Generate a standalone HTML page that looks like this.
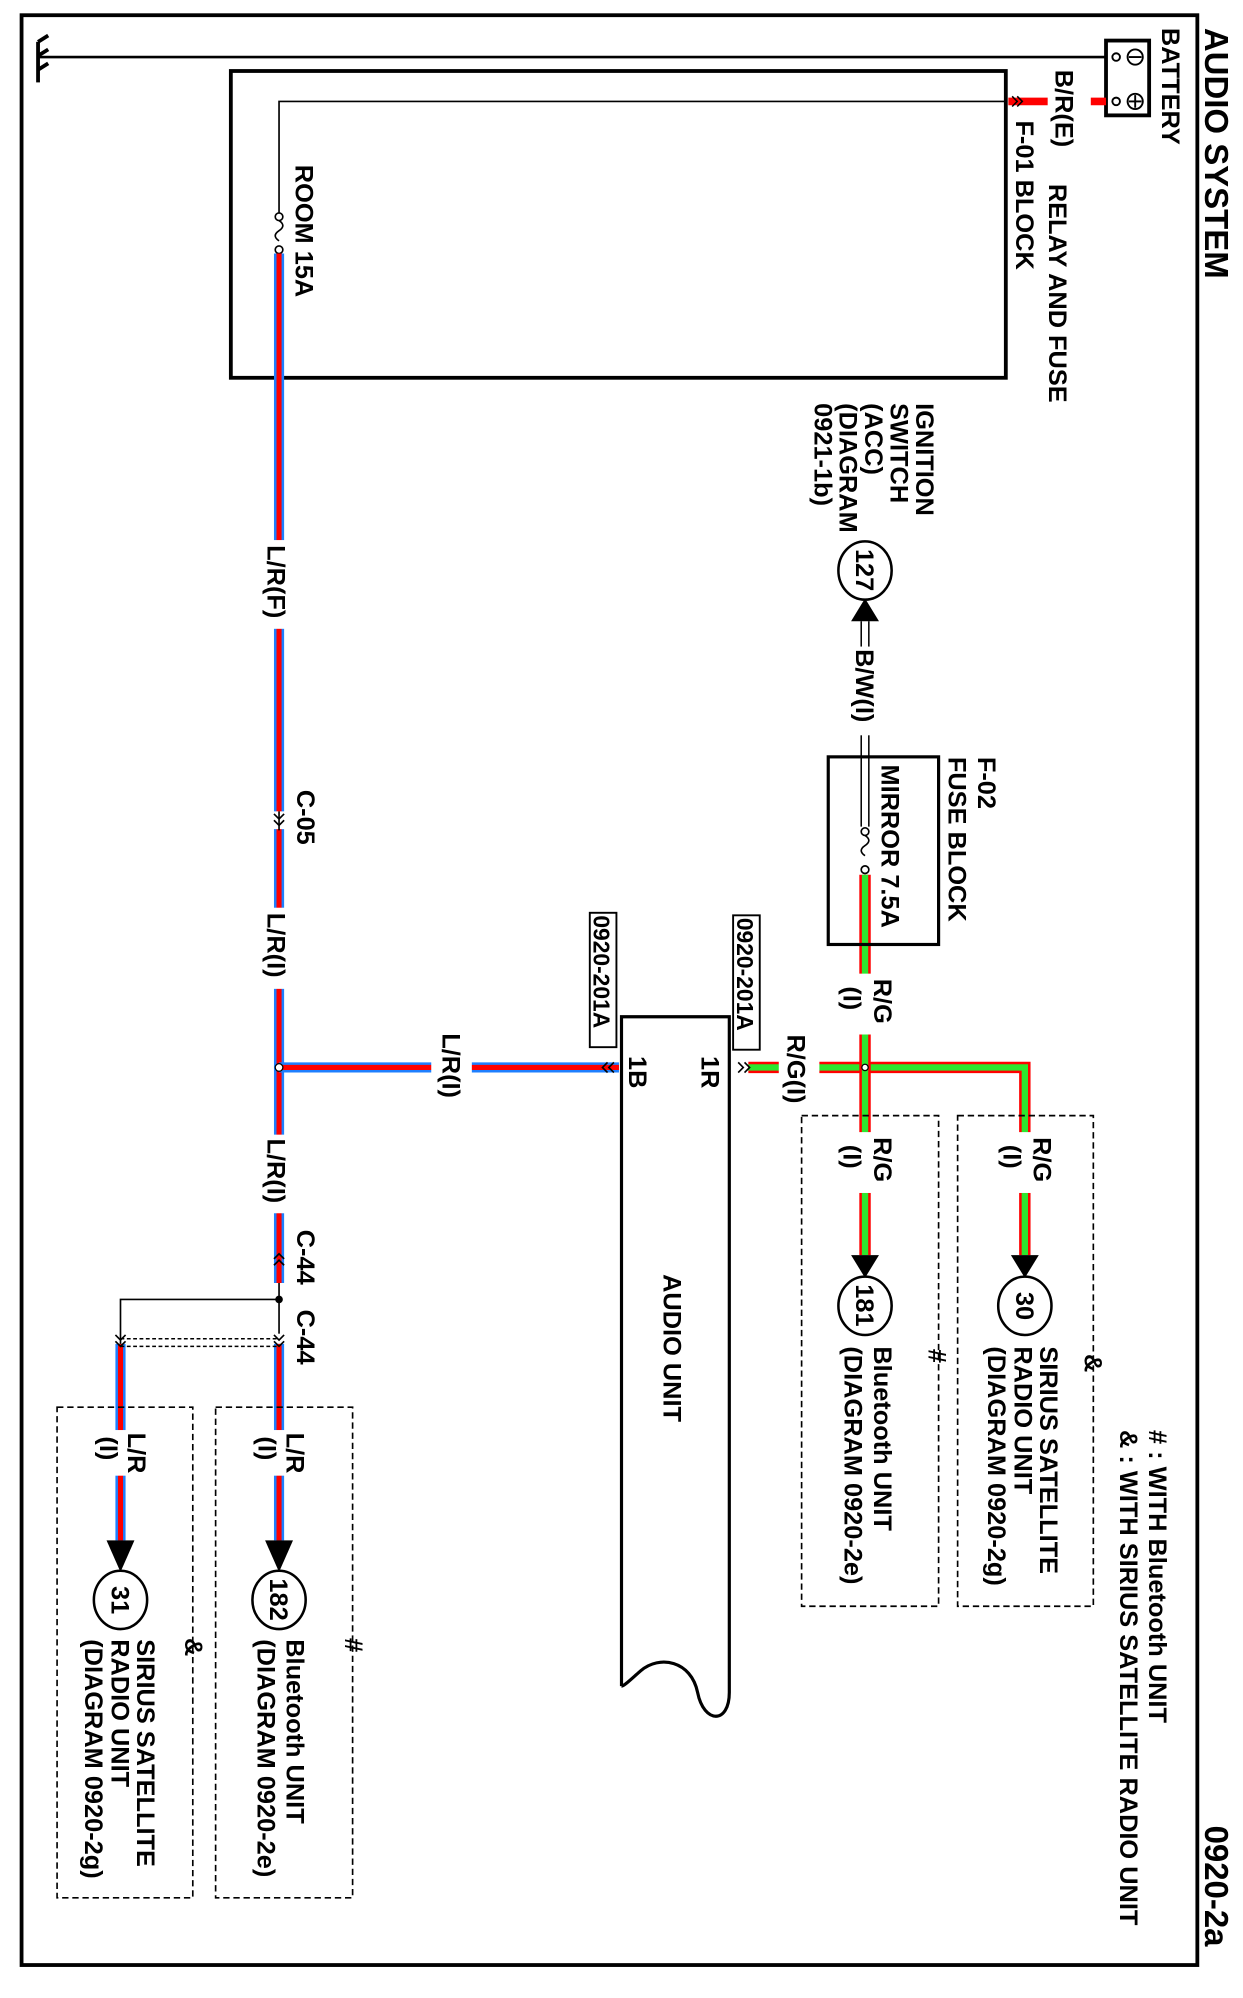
<!DOCTYPE html>
<html><head><meta charset="utf-8"><style>
html,body{margin:0;padding:0;background:#fff;}
svg{display:block;}
text{font-family:"Liberation Sans",sans-serif;font-weight:bold;fill:#000;}
</style></head><body>
<svg width="1243" height="1998" viewBox="0 0 980 1576" preserveAspectRatio="none" xmlns="http://www.w3.org/2000/svg">
<rect x="17" y="12" width="927" height="1538" fill="none" stroke="#000" stroke-width="3"/>
<!-- ground -->
<g stroke="#000" stroke-width="3"><line x1="30" y1="33" x2="30" y2="65"/><line x1="30" y1="33" x2="38" y2="28"/><line x1="30" y1="44" x2="38" y2="39"/><line x1="30" y1="55" x2="38" y2="50"/></g>
<line x1="30" y1="45" x2="872" y2="45" stroke="#000" stroke-width="2"/>
<!-- battery -->
<rect x="872" y="32" width="34" height="59" fill="#fff" stroke="#000" stroke-width="3"/>
<circle cx="880" cy="45" r="3" fill="#fff" stroke="#000" stroke-width="1.5"/>
<circle cx="880" cy="80" r="3" fill="#fff" stroke="#000" stroke-width="1.5"/>
<circle cx="895" cy="45" r="6" fill="#fff" stroke="#000" stroke-width="1.5"/><line x1="890" y1="45" x2="900" y2="45" stroke="#000" stroke-width="1.5"/>
<circle cx="895" cy="80" r="6" fill="#fff" stroke="#000" stroke-width="1.5"/><line x1="890" y1="80" x2="900" y2="80" stroke="#000" stroke-width="1.5"/><line x1="895" y1="75" x2="895" y2="85" stroke="#000" stroke-width="1.5"/>
<!-- B/R wire -->
<line x1="795" y1="80" x2="872" y2="80" stroke="#f00" stroke-width="6"/>
<rect x="826" y="70" width="34" height="20" fill="#fff"/>
<path d="M798 76 l4 4 l-4 4 M802 76 l4 4 l-4 4" fill="none" stroke="#000" stroke-width="1.2"/>
<!-- F-01 box -->
<rect x="182" y="56" width="611" height="242" fill="none" stroke="#000" stroke-width="3"/>
<polyline points="793,80 220,80 220,168" fill="none" stroke="#000" stroke-width="1.3"/>
<circle cx="220" cy="171" r="3" fill="#fff" stroke="#000" stroke-width="1.3"/>
<path d="M220 174 q6 4 0 8 q-6 4 0 8" fill="none" stroke="#000" stroke-width="1.3"/>
<circle cx="220" cy="197" r="3" fill="#fff" stroke="#000" stroke-width="1.3"/>
<!-- L/R wires -->
<g>
<line x1="220" y1="200" x2="220" y2="1012" stroke="#1e7fff" stroke-width="8"/>
<line x1="220" y1="200" x2="220" y2="1012" stroke="#f00" stroke-width="4"/>
<line x1="220" y1="1012" x2="220" y2="1052" stroke="#000" stroke-width="1.3"/>
<line x1="220" y1="1060" x2="220" y2="1215" stroke="#1e7fff" stroke-width="8"/>
<line x1="220" y1="1060" x2="220" y2="1215" stroke="#f00" stroke-width="4"/>
<line x1="95" y1="1060" x2="95" y2="1215" stroke="#1e7fff" stroke-width="8"/>
<line x1="95" y1="1060" x2="95" y2="1215" stroke="#f00" stroke-width="4"/>
<line x1="220" y1="842" x2="488" y2="842" stroke="#1e7fff" stroke-width="8"/>
<line x1="220" y1="842" x2="488" y2="842" stroke="#f00" stroke-width="4"/>
</g>
<!-- label gaps -->
<rect x="208" y="426" width="24" height="70" fill="#fff"/>
<rect x="208" y="716" width="24" height="64" fill="#fff"/>
<rect x="208" y="895" width="24" height="62" fill="#fff"/>
<rect x="340" y="831" width="32" height="22" fill="#fff"/>
<text transform="translate(211,430) rotate(90)" font-size="20">L/R(F)</text>
<text transform="translate(211,720) rotate(90)" font-size="20">L/R(I)</text>
<text transform="translate(211,898) rotate(90)" font-size="20">L/R(I)</text>
<text transform="translate(349,815) rotate(90)" font-size="20">L/R(I)</text>
<!-- C-05 -->
<rect x="212" y="640" width="16" height="14" fill="#fff"/>
<path d="M216 642 l4 4 l4 -4 M216 647 l4 4 l4 -4" fill="none" stroke="#000" stroke-width="1.3"/>
<line x1="220" y1="640" x2="220" y2="655" stroke="#000" stroke-width="1.3"/>
<text transform="translate(234,623) rotate(90)" font-size="20">C-05</text>
<circle cx="220" cy="842" r="3" fill="#fff" stroke="#000" stroke-width="1"/>
<!-- C-44 -->
<path d="M216 998 l4 -4 l4 4 M216 993 l4 -4 l4 4" fill="none" stroke="#000" stroke-width="1.3"/>
<text transform="translate(234,970) rotate(90)" font-size="20">C-44</text>
<text transform="translate(234,1033) rotate(90)" font-size="20">C-44</text>
<circle cx="220" cy="1025" r="3" fill="#000"/>
<polyline points="220,1025 95,1025 95,1060" fill="none" stroke="#000" stroke-width="1.3"/>
<line x1="95" y1="1056" x2="220" y2="1056" stroke="#000" stroke-width="1.2" stroke-dasharray="3,2"/>
<line x1="95" y1="1062" x2="220" y2="1062" stroke="#000" stroke-width="1.2" stroke-dasharray="3,2"/>
<path d="M216 1053 l4 4 l4 -4 M216 1058 l4 4 l4 -4 M91 1053 l4 4 l4 -4 M91 1058 l4 4 l4 -4" fill="none" stroke="#000" stroke-width="1.3"/>
<rect x="208" y="1128" width="24" height="36" fill="#fff"/>
<rect x="83" y="1128" width="24" height="36" fill="#fff"/>
<text transform="translate(226,1130) rotate(90)" font-size="20">L/R</text>
<text transform="translate(204,1133) rotate(90)" font-size="20">(I)</text>
<text transform="translate(101,1130) rotate(90)" font-size="20">L/R</text>
<text transform="translate(79,1133) rotate(90)" font-size="20">(I)</text>
<polygon points="209,1215 231,1215 220,1240" fill="#000"/>
<polygon points="84,1215 106,1215 95,1240" fill="#000"/>
<ellipse cx="220" cy="1262" rx="21" ry="23" fill="#fff" stroke="#000" stroke-width="2"/>
<ellipse cx="95" cy="1262" rx="21" ry="23" fill="#fff" stroke="#000" stroke-width="2"/>
<text transform="translate(213,1245) rotate(90)" font-size="20">182</text>
<text transform="translate(88,1251) rotate(90)" font-size="20">31</text>
<rect x="170" y="1110" width="108" height="387" fill="none" stroke="#000" stroke-width="1.3" stroke-dasharray="5,3"/>
<rect x="45" y="1110" width="107" height="387" fill="none" stroke="#000" stroke-width="1.3" stroke-dasharray="5,3"/>
<text transform="translate(272,1292) rotate(90)" font-size="20">#</text>
<text transform="translate(226,1293) rotate(90)" font-size="20">Bluetooth UNIT</text>
<text transform="translate(203,1293) rotate(90)" font-size="20">(DIAGRAM 0920-2e)</text>
<text transform="translate(146,1292) rotate(90)" font-size="20">&amp;</text>
<text transform="translate(108,1293) rotate(90)" font-size="20">SIRIUS SATELLITE</text>
<text transform="translate(88,1293) rotate(90)" font-size="20">RADIO UNIT</text>
<text transform="translate(67,1293) rotate(90)" font-size="20">(DIAGRAM 0920-2g)</text>
<text transform="translate(233,130) rotate(90)" font-size="20">ROOM 15A</text>
<!-- audio unit -->
<path d="M490 1330 L490 802 L575 802 L575 1335 C575 1360 555 1360 550 1335 C545 1310 520 1305 505 1318 C497 1325 492 1330 490 1330" fill="none" stroke="#000" stroke-width="2.5"/>
<text transform="translate(553,833) rotate(90)" font-size="20">1R</text>
<text transform="translate(496,833) rotate(90)" font-size="20">1B</text>
<text transform="translate(523,1005) rotate(90)" font-size="20" font-weight="normal">AUDIO UNIT</text>
<path d="M484 838 l-4 4 l4 4 M479 838 l-4 4 l4 4" fill="none" stroke="#000" stroke-width="1.3"/>
<rect x="465" y="720" width="21" height="106" fill="#fff" stroke="#000" stroke-width="1.5"/>
<text transform="translate(468,722) rotate(90)" font-size="18">0920-201A</text>
<rect x="578" y="722" width="21" height="106" fill="#fff" stroke="#000" stroke-width="1.5"/>
<text transform="translate(581,724) rotate(90)" font-size="18">0920-201A</text>
<!-- R/G wires -->
<g stroke-linecap="butt">
<polyline points="590,842 808,842 808,990" fill="none" stroke="#f00" stroke-width="9"/>
<polyline points="590,842 808,842 808,990" fill="none" stroke="#2ee62e" stroke-width="5"/>
<line x1="682" y1="690" x2="682" y2="990" stroke="#f00" stroke-width="9"/>
<line x1="682" y1="690" x2="682" y2="990" stroke="#2ee62e" stroke-width="5"/>
</g>
<rect x="614" y="831" width="32" height="22" fill="#fff"/>
<text transform="translate(621,816) rotate(90)" font-size="20">R/G(I)</text>
<rect x="670" y="768" width="24" height="48" fill="#fff"/>
<text transform="translate(689,772) rotate(90)" font-size="20">R/G</text>
<text transform="translate(665,778) rotate(90)" font-size="20">(I)</text>
<rect x="670" y="893" width="24" height="48" fill="#fff"/>
<rect x="796" y="893" width="24" height="48" fill="#fff"/>
<text transform="translate(689,897) rotate(90)" font-size="20">R/G</text>
<text transform="translate(665,903) rotate(90)" font-size="20">(I)</text>
<text transform="translate(815,897) rotate(90)" font-size="20">R/G</text>
<text transform="translate(791,903) rotate(90)" font-size="20">(I)</text>
<path d="M582 838 l4 4 l-4 4 M587 838 l4 4 l-4 4" fill="none" stroke="#000" stroke-width="1.3"/>
<circle cx="682" cy="842" r="2.5" fill="#fff" stroke="#000" stroke-width="1"/>
<polygon points="671,990 693,990 682,1008" fill="#000"/>
<polygon points="797,990 819,990 808,1008" fill="#000"/>
<ellipse cx="682" cy="1030" rx="21" ry="23" fill="#fff" stroke="#000" stroke-width="2"/>
<ellipse cx="808" cy="1030" rx="21" ry="23" fill="#fff" stroke="#000" stroke-width="2"/>
<text transform="translate(675,1013) rotate(90)" font-size="20">181</text>
<text transform="translate(801,1019) rotate(90)" font-size="20">30</text>
<rect x="632" y="880" width="108" height="387" fill="none" stroke="#000" stroke-width="1.3" stroke-dasharray="5,3"/>
<rect x="755" y="880" width="107" height="387" fill="none" stroke="#000" stroke-width="1.3" stroke-dasharray="5,3"/>
<text transform="translate(732,1064) rotate(90)" font-size="20">#</text>
<text transform="translate(689,1062) rotate(90)" font-size="20">Bluetooth UNIT</text>
<text transform="translate(666,1062) rotate(90)" font-size="20">(DIAGRAM 0920-2e)</text>
<text transform="translate(855,1068) rotate(90)" font-size="20">&amp;</text>
<text transform="translate(820,1062) rotate(90)" font-size="20">SIRIUS SATELLITE</text>
<text transform="translate(800,1062) rotate(90)" font-size="20">RADIO UNIT</text>
<text transform="translate(779,1062) rotate(90)" font-size="20">(DIAGRAM 0920-2g)</text>
<!-- F-02 fuse block -->
<rect x="653" y="597" width="87" height="148" fill="none" stroke="#000" stroke-width="2.5"/>
<line x1="679" y1="490" x2="679" y2="652" stroke="#000" stroke-width="1.2"/>
<line x1="685" y1="490" x2="685" y2="652" stroke="#000" stroke-width="1.2"/>
<circle cx="682" cy="656" r="3" fill="#fff" stroke="#000" stroke-width="1.3"/>
<path d="M682 659 q6 4 0 8 q-6 4 0 8" fill="none" stroke="#000" stroke-width="1.3"/>
<circle cx="682" cy="686" r="3" fill="#fff" stroke="#000" stroke-width="1.3"/>
<rect x="670" y="510" width="24" height="70" fill="#fff"/>
<text transform="translate(675,512) rotate(90)" font-size="20">B/W(I)</text>
<polygon points="671,490 693,490 682,472" fill="#000"/>
<ellipse cx="682" cy="450" rx="21" ry="23" fill="#fff" stroke="#000" stroke-width="2"/>
<text transform="translate(675,433) rotate(90)" font-size="20">127</text>
<text transform="translate(695,603) rotate(90)" font-size="20">MIRROR 7.5A</text>
<text transform="translate(771,597) rotate(90)" font-size="20">F-02</text>
<text transform="translate(748,597) rotate(90)" font-size="20">FUSE BLOCK</text>
<text transform="translate(722,318) rotate(90)" font-size="20">IGNITION</text>
<text transform="translate(702,318) rotate(90)" font-size="20">SWITCH</text>
<text transform="translate(682,318) rotate(90)" font-size="20">(ACC)</text>
<text transform="translate(662,318) rotate(90)" font-size="20">(DIAGRAM</text>
<text transform="translate(642,318) rotate(90)" font-size="20">0921-1b)</text>
<!-- top right labels -->
<text transform="translate(950,22) rotate(90)" font-size="26">AUDIO SYSTEM</text>
<text transform="translate(950,1440) rotate(90)" font-size="26">0920-2a</text>
<text transform="translate(916,22) rotate(90)" font-size="20">BATTERY</text>
<text transform="translate(832,55) rotate(90)" font-size="20">B/R(E)</text>
<text transform="translate(827,145) rotate(90)" font-size="20">RELAY AND FUSE</text>
<text transform="translate(801,95) rotate(90)" font-size="20">F-01 BLOCK</text>
<text transform="translate(906,1128) rotate(90)" font-size="20"># : WITH Bluetooth UNIT</text>
<text transform="translate(883,1128) rotate(90)" font-size="20">&amp; : WITH SIRIUS SATELLITE RADIO UNIT</text>
</svg>
</body></html>
